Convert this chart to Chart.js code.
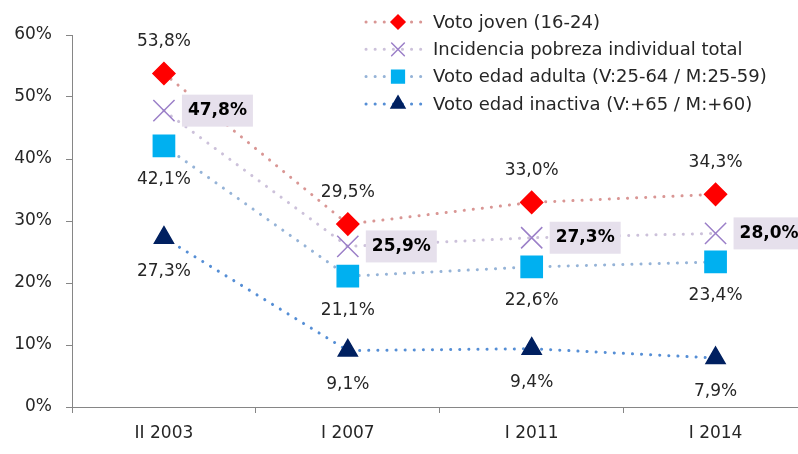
<!DOCTYPE html>
<html lang="es">
<head>
    <meta charset="UTF-8">
    <title>Voto por edad e incidencia de pobreza</title>
    <script src="https://cdn.jsdelivr.net/npm/chart.js@4.4.0/dist/chart.umd.min.js"></script>
    <style>
        html, body { margin: 0; padding: 0; background: #fff; overflow: hidden; }
        #wrap { width: 824px; height: 454px; }
    </style>
</head>
<body>
<div id="wrap"><canvas id="chart" width="824" height="454"></canvas></div>
<script>
    // datos
    const categorias = ['II 2003', 'I 2007', 'I 2011', 'I 2014'];
    const votoJoven = [53.8, 29.5, 33.0, 34.3];
    const pobrezaTotal = [47.8, 25.9, 27.3, 28.0];
    const votoAdulta = [42.1, 21.1, 22.6, 23.4];
    const votoInactiva = [27.3, 9.1, 9.4, 7.9];
    const ticksY = [0, 10, 20, 30, 40, 50, 60];

    const FUENTE = '"DejaVu Sans", sans-serif';
    const punteado = [0.1, 9];

    const series = [
        { label: 'Voto joven (16-24)', data: votoJoven, line: '#d99694', fill: '#ff0000', stroke: '#ff0000', style: 'rectRot', r: 11, lr: 7, pos: 'above' },
        { label: 'Incidencia pobreza individual total', data: pobrezaTotal, line: '#ccc1da', fill: 'rgba(0,0,0,0)', stroke: '#9b7fc8', style: 'crossRot', r: 15, lr: 9, pos: 'box' },
        { label: 'Voto edad adulta (V:25-64 / M:25-59)', data: votoAdulta, line: '#95b3d7', fill: '#00b0f0', stroke: '#00b0f0', style: 'rect', r: 15, lr: 9, pos: 'below' },
        { label: 'Voto edad inactiva (V:+65 / M:+60)', data: votoInactiva, line: '#558ed5', fill: '#002060', stroke: '#002060', style: 'triangle', r: 11, lr: 8, pos: 'below' }
    ];

    const fmt = v => v.toFixed(1).replace('.', ',') + '%';

    // etiquetas de datos
    const etiquetas = {
        id: 'etiquetas',
        afterDatasetsDraw(chart) {
            const ctx = chart.ctx;
            ctx.save();
            ctx.textBaseline = 'middle';
            series.forEach((s, i) => {
                const meta = chart.getDatasetMeta(i);
                meta.data.forEach((pt, j) => {
                    const txt = fmt(s.data[j]);
                    if (s.pos === 'box') {
                        ctx.font = 'bold 17px ' + FUENTE;
                        const w = ctx.measureText(txt).width;
                        const x0 = pt.x + 18;
                        ctx.fillStyle = '#e6e0ec';
                        ctx.fillRect(x0, pt.y - 16, w + 12, 32);
                        ctx.fillStyle = '#000';
                        ctx.textAlign = 'left';
                        ctx.fillText(txt, x0 + 6, pt.y);
                    } else {
                        ctx.font = '17px ' + FUENTE;
                        ctx.fillStyle = '#262626';
                        ctx.textAlign = 'center';
                        const dy = s.pos === 'above' ? -32 : 34;
                        ctx.fillText(txt, pt.x, pt.y + dy);
                    }
                });
            });
            ctx.restore();
        }
    };

    // leyenda dibujada a mano (línea + marcador)
    const leyenda = {
        id: 'leyenda',
        afterDraw(chart) {
            const ctx = chart.ctx;
            ctx.save();
            series.forEach((s, i) => {
                const y = 22 + i * 27.3;
                ctx.strokeStyle = s.line;
                ctx.lineWidth = 3;
                ctx.lineCap = 'round';
                ctx.setLineDash(punteado);
                ctx.beginPath();
                ctx.moveTo(366, y);
                ctx.lineTo(426, y);
                ctx.stroke();
                ctx.setLineDash([]);
                ctx.fillStyle = s.fill;
                ctx.strokeStyle = s.stroke;
                ctx.lineWidth = 1.5;
                Chart.helpers.drawPoint(ctx, { pointStyle: s.style, radius: s.lr, rotation: 0, borderWidth: 1.5 }, 398, y);
                ctx.font = '18px ' + FUENTE;
                ctx.fillStyle = '#262626';
                ctx.textAlign = 'left';
                ctx.textBaseline = 'middle';
                ctx.fillText(s.label, 433, y + 1);
            });
            ctx.restore();
        }
    };

    new Chart(document.getElementById('chart'), {
        type: 'line',
        data: {
            labels: categorias,
            datasets: series.map(s => ({
                label: s.label,
                data: s.data,
                borderColor: s.line,
                borderWidth: 3,
                borderDash: punteado,
                borderCapStyle: 'round',
                pointStyle: s.style,
                pointRadius: s.r,
                pointBackgroundColor: s.fill,
                pointBorderColor: s.stroke,
                pointBorderWidth: 1.5,
                tension: 0,
                fill: false
            }))
        },
        options: {
            responsive: false,
            animation: false,
            events: [],
            layout: { padding: { top: 35, left: 0, right: 4, bottom: 0 } },
            plugins: { legend: { display: false }, tooltip: { enabled: false } },
            scales: {
                x: {
                    offset: true,
                    grid: { offset: true, drawOnChartArea: false, color: '#868686', tickLength: 6 },
                    border: { color: '#868686', width: 1 },
                    ticks: { color: '#262626', font: { family: FUENTE, size: 17 }, padding: 10, maxRotation: 0 },
                    afterFit(scale) { scale.height = 47; }
                },
                y: {
                    min: 0, max: 60,
                    afterBuildTicks(scale) { scale.ticks = ticksY.map(v => ({ value: v })); },
                    grid: { drawOnChartArea: false, color: '#868686', tickLength: 6 },
                    border: { color: '#868686', width: 1 },
                    ticks: { color: '#262626', font: { family: FUENTE, size: 17 }, padding: 14, callback: v => v + '%' },
                    afterFit(scale) { scale.width = 72; }
                }
            }
        },
        plugins: [etiquetas, leyenda]
    });
</script>
</body>
</html>
